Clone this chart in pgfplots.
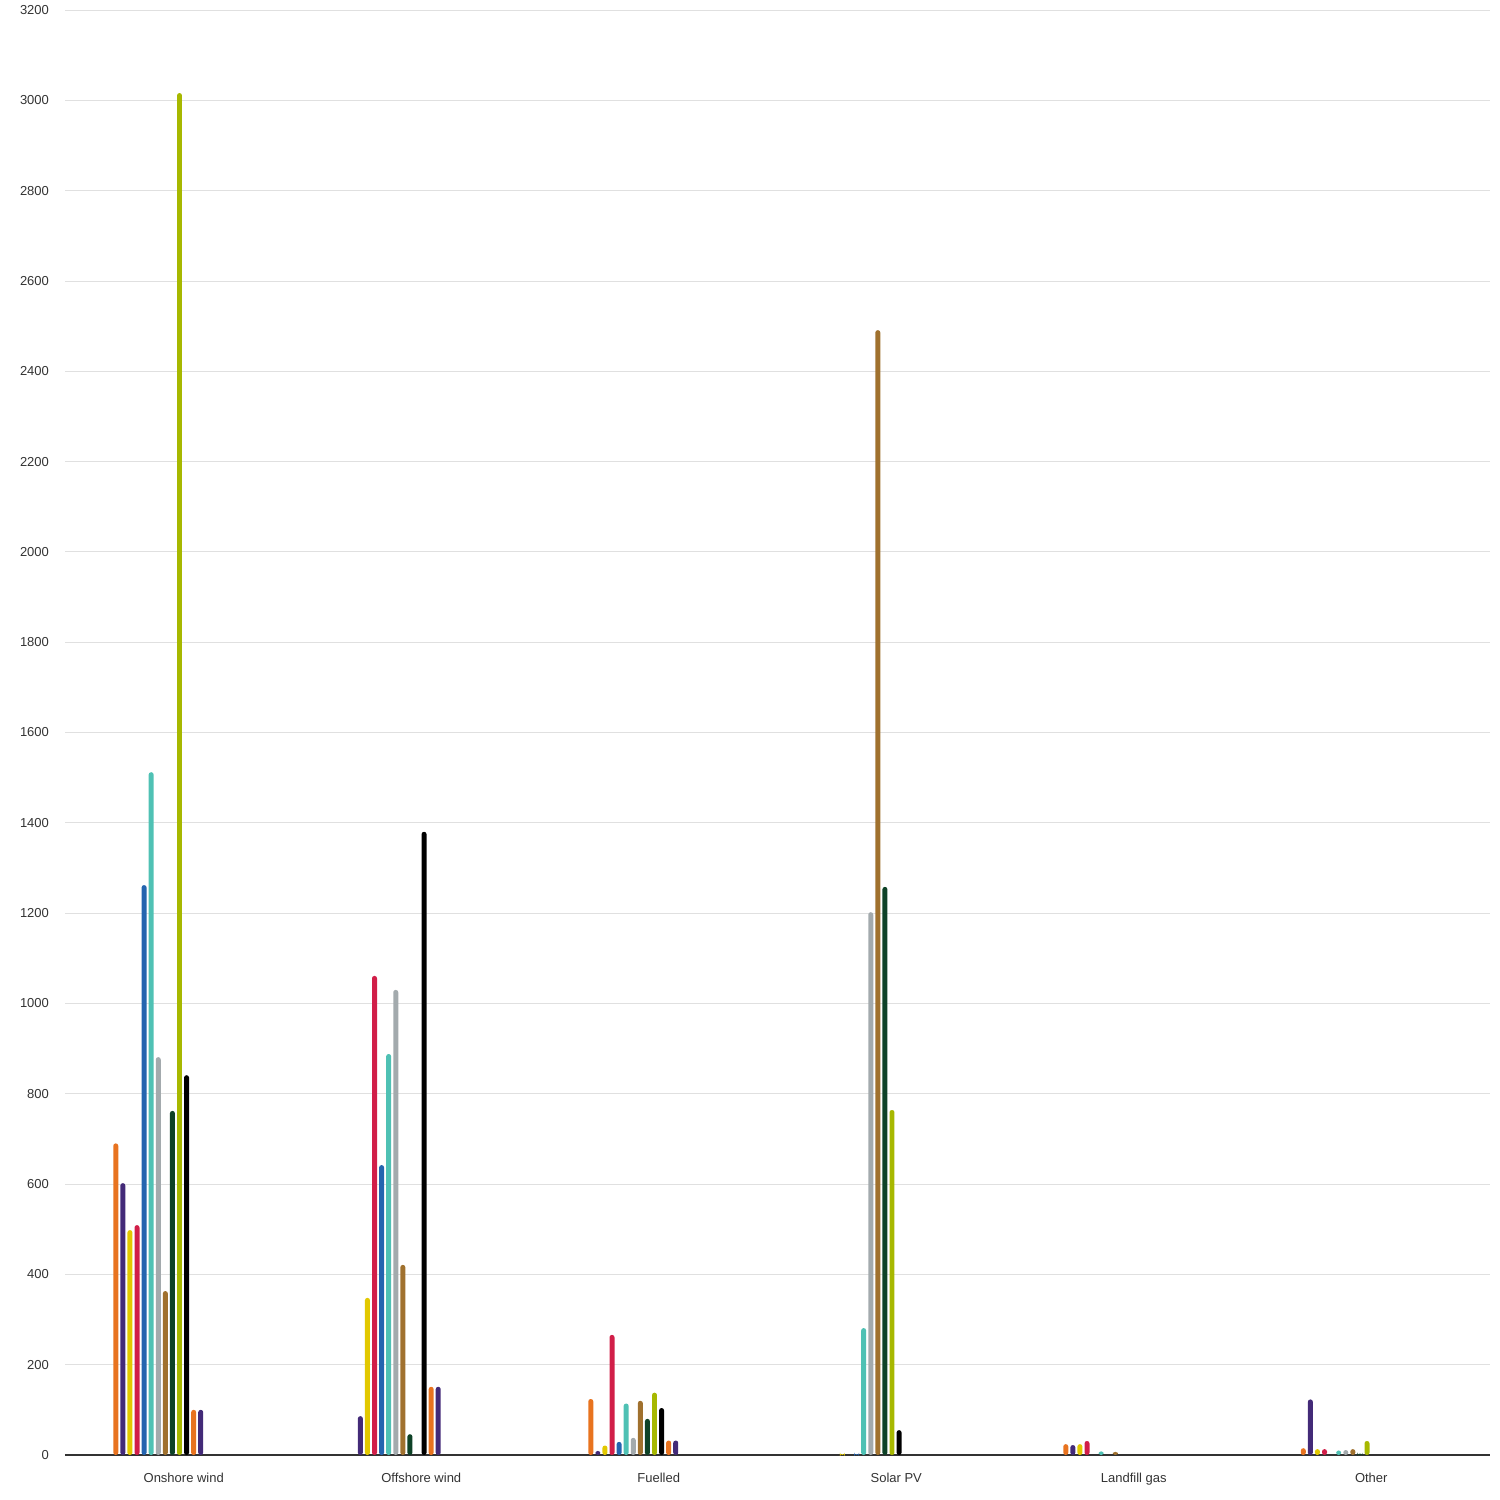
\documentclass[border=0pt]{standalone}
\usepackage{pgfplots}
\pgfplotsset{compat=1.18}
\usepackage{pgfplotstable}
\usepackage{fontspec}
\setmainfont{Liberation Sans}
\definecolor{c1}{HTML}{E8731F}
\definecolor{c2}{HTML}{432A78}
\definecolor{c3}{HTML}{E2C800}
\definecolor{c4}{HTML}{D11E48}
\definecolor{c5}{HTML}{2464AF}
\definecolor{c6}{HTML}{4FC1B4}
\definecolor{c7}{HTML}{A3AAAD}
\definecolor{c8}{HTML}{A0712E}
\definecolor{c9}{HTML}{0E4227}
\definecolor{c10}{HTML}{A7B800}
\definecolor{c11}{HTML}{000000}
\definecolor{c12}{HTML}{E8731F}
\definecolor{c13}{HTML}{432A78}
\definecolor{txt}{HTML}{333333}
\pgfplotstableread{
x s1 s2 s3 s4 s5 s6 s7 s8 s9 s10 s11 s12 s13
0 690 602 498 509 1262 1512 881 363 762 3016 841 100 100
1 nan 86 348 1061 642 888 1030 421 46 nan 1380 151 151
2 124 9 21 266 29 114 38 120 80 138 104 32 32
3 nan nan 2 nan 2 281 1202 2491 1258 764 55 nan nan
4 24 22 24 31 nan 8 nan 7 nan nan nan nan nan
5 15 123 13 13 nan 10 11 13 3 31 nan nan nan
}\data
\begin{document}
\begin{tikzpicture}
\useasboundingbox (-32.5pt,-22.5pt) rectangle (717.5pt,727.5pt);
\begin{axis}[
  scale only axis, width=712.5pt, height=722.5pt,
  xmin=-0.5, xmax=5.5, ymin=0, ymax=3200,
  ytick={200,400,...,3200}, extra y ticks={0}, extra y tick labels={0},
  extra y tick style={grid style={draw=txt, line width=0.6pt}},
  xtick={0,...,5},
  xticklabels={Onshore wind, Offshore wind, Fuelled, Solar PV, Landfill gas, Other},
  ymajorgrids, grid style={draw=black!12, line width=0.4pt},
  axis line style={draw=none}, tick style={draw=none},
  ybar, bar width=0.021,
  unbounded coords=discard,
  font=\fontsize{6.5}{8}\selectfont,
  ticklabel style={text=txt},
  yticklabel style={xshift=-4.5pt},
  xticklabel style={yshift=-1pt},
  /pgf/number format/1000 sep={},
  /pgf/number format/assume math mode=true,
  every axis plot/.append style={draw=none, rounded corners=1.2pt},
]
\addplot[fill=c1, bar shift=-0.2862] table[x=x,y=s1]{\data};
\addplot[fill=c2, bar shift=-0.2564] table[x=x,y=s2]{\data};
\addplot[fill=c3, bar shift=-0.2266] table[x=x,y=s3]{\data};
\addplot[fill=c4, bar shift=-0.1968] table[x=x,y=s4]{\data};
\addplot[fill=c5, bar shift=-0.1670] table[x=x,y=s5]{\data};
\addplot[fill=c6, bar shift=-0.1372] table[x=x,y=s6]{\data};
\addplot[fill=c7, bar shift=-0.1073] table[x=x,y=s7]{\data};
\addplot[fill=c8, bar shift=-0.0775] table[x=x,y=s8]{\data};
\addplot[fill=c9, bar shift=-0.0477] table[x=x,y=s9]{\data};
\addplot[fill=c10, bar shift=-0.0179] table[x=x,y=s10]{\data};
\addplot[fill=c11, bar shift=0.0119] table[x=x,y=s11]{\data};
\addplot[fill=c12, bar shift=0.0417] table[x=x,y=s12]{\data};
\addplot[fill=c13, bar shift=0.0715] table[x=x,y=s13]{\data};
\end{axis}
\end{tikzpicture}
\end{document}
